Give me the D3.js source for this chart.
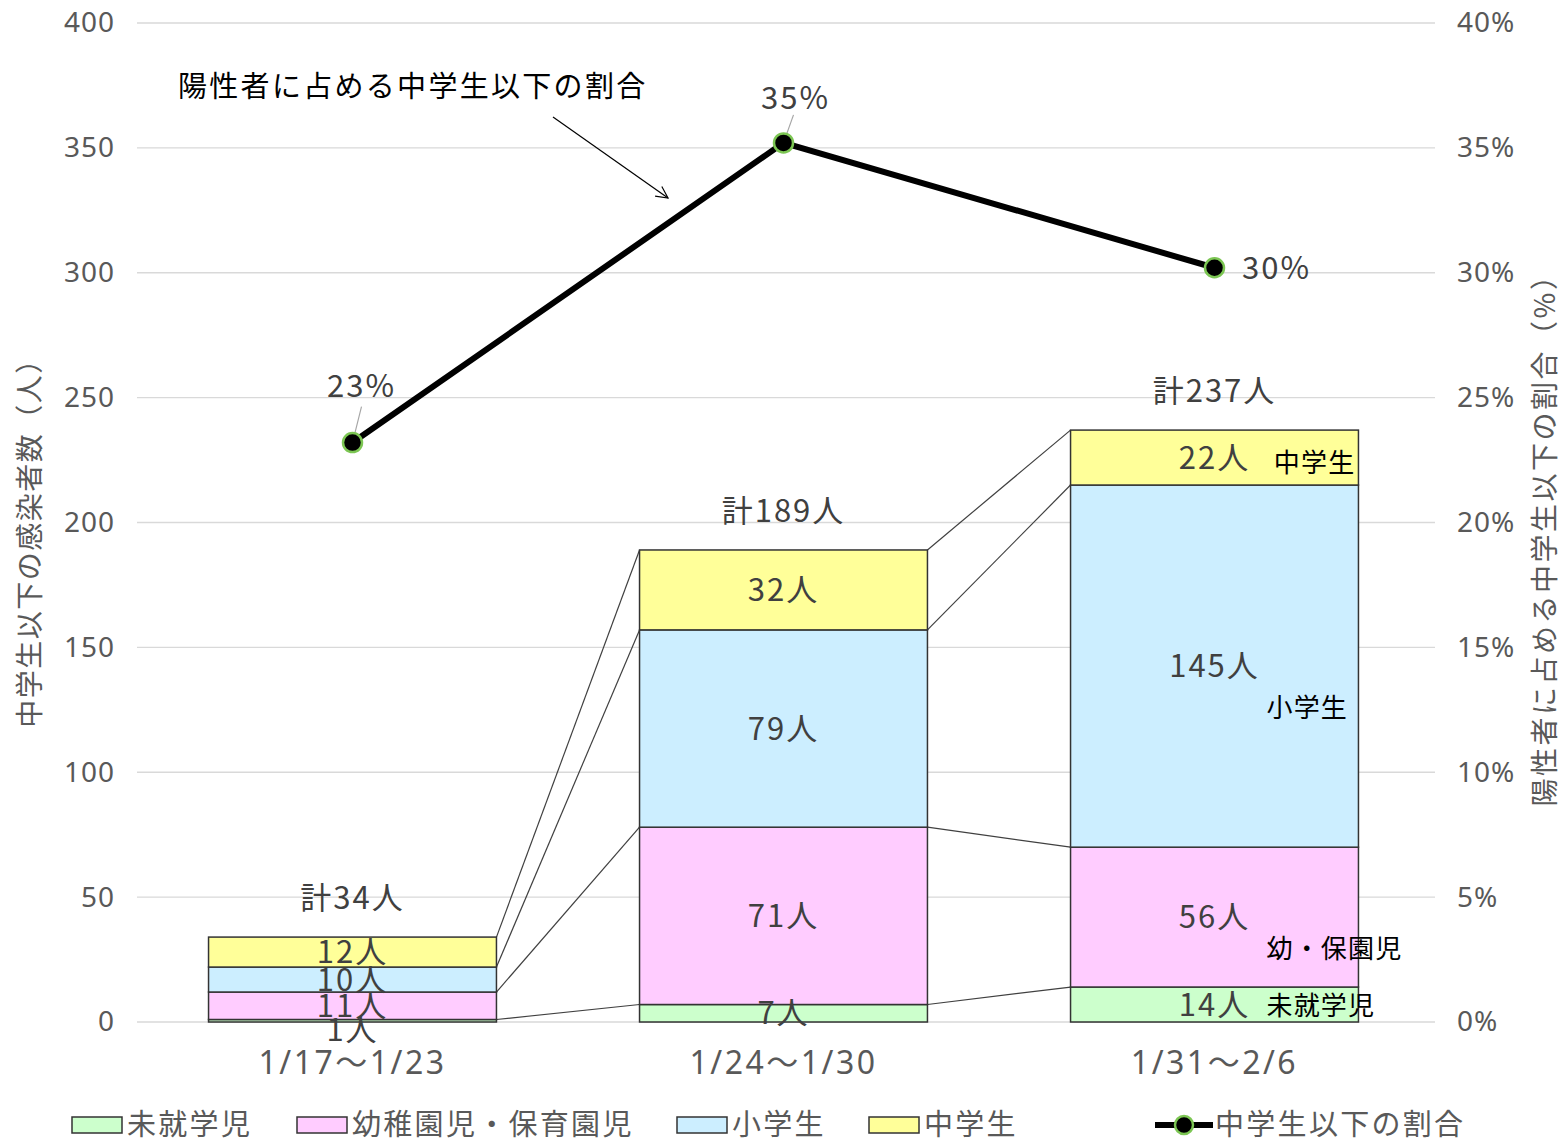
<!DOCTYPE html>
<html>
<head>
<meta charset="utf-8">
<script src="https://cdn.jsdelivr.net/npm/d3@7"></script>
<style>
  body { margin: 0; background: #fff; }
  svg text { font-family: "Noto Sans CJK JP", "Noto Sans", sans-serif; }
</style>
</head>
<body>
<div id="chart"></div>
<script>
// data
const weeks = ["1/17～1/23", "1/24～1/30", "1/31～2/6"];
const seriesNames = ["未就学児", "幼稚園児・保育園児", "小学生", "中学生"];
const preschool = [1, 7, 14];
const kinder = [11, 71, 56];
const elementary = [10, 79, 145];
const juniorHigh = [12, 32, 22];
const ratio = [0.232, 0.352, 0.302];
const ratioLabels = ["23%", "35%", "30%"];
const leftTicks = [0, 50, 100, 150, 200, 250, 300, 350, 400];
const rightTicks = [0, 0.05, 0.1, 0.15, 0.2, 0.25, 0.3, 0.35, 0.4];
// short names written inside the last bar, at these y values
const insideNames = ["未就学児", "幼・保園児", "小学生", "中学生"];
const insideNameAt = [6.5, 29.5, 126, 224];

const colors = ["#ccffcc", "#ffccff", "#cceeff", "#ffff99"];

const W = 1563, H = 1142;
const margin = { top: 23, right: 128, bottom: 120, left: 137 };

const svg = d3.select("#chart").append("svg")
  .attr("width", W).attr("height", H);

const x = d3.scaleBand()
  .domain(weeks)
  .range([margin.left, 1430])
  .paddingInner(0.332)
  .paddingOuter(0.166);

const y = d3.scaleLinear().domain([0, 400]).range([1022, margin.top]);
const y2 = d3.scaleLinear().domain([0, 0.4]).range([1022, margin.top]);

// gridlines
svg.append("g").selectAll("line").data(leftTicks).join("line")
  .attr("x1", margin.left).attr("x2", 1435)
  .attr("y1", d => y(d)).attr("y2", d => y(d))
  .attr("stroke", "#d9d9d9").attr("stroke-width", 1.3);

// left axis
const yAxis = d3.axisLeft(y).tickValues(leftTicks).tickSize(0).tickPadding(22);
const gy = svg.append("g").attr("transform", `translate(${margin.left},0)`).call(yAxis);
gy.select(".domain").remove();
gy.selectAll("text").attr("font-size", 28).attr("fill", "#595959")
  .attr("letter-spacing", 1)
  .style("font-family", "'Noto Sans', sans-serif");

// right axis
const y2Axis = d3.axisRight(y2).tickValues(rightTicks).tickSize(0).tickPadding(22)
  .tickFormat(d3.format(".0%"));
const gy2 = svg.append("g").attr("transform", "translate(1435,0)").call(y2Axis);
gy2.select(".domain").remove();
gy2.selectAll("text").attr("font-size", 28).attr("fill", "#595959")
  .attr("letter-spacing", 1)
  .style("font-family", "'Noto Sans', sans-serif");

// axis titles
svg.append("text")
  .attr("transform", "translate(40,536) rotate(-90)")
  .attr("text-anchor", "middle")
  .attr("font-size", 28).attr("letter-spacing", 1.5).attr("fill", "#595959")
  .text("中学生以下の感染者数（人）");

svg.append("text")
  .attr("transform", "translate(1555,533) rotate(-90)")
  .attr("text-anchor", "middle")
  .attr("font-size", 28).attr("letter-spacing", 2.5).attr("fill", "#595959")
  .text("陽性者に占める中学生以下の割合（%）");

// x axis labels
svg.append("g").selectAll("text").data(weeks).join("text")
  .attr("x", d => x(d) + x.bandwidth() / 2)
  .attr("y", 1074)
  .attr("text-anchor", "middle")
  .attr("font-size", 32).attr("letter-spacing", 2.5).attr("fill", "#595959")
  .style("font-family", "'Noto Sans', 'Noto Sans CJK JP', sans-serif")
  .text(d => d);

// stacked bars
const table = weeks.map((w, i) => ({
  week: w, s0: preschool[i], s1: kinder[i], s2: elementary[i], s3: juniorHigh[i]
}));
const keys = ["s0", "s1", "s2", "s3"];
const stacked = d3.stack().keys(keys)(table);

// series lines between bars
const seriesLines = [];
stacked.forEach(layer => {
  for (let i = 0; i < layer.length - 1; i++) {
    seriesLines.push({ a: layer[i], b: layer[i + 1], i });
  }
});
svg.append("g").selectAll("line").data(seriesLines).join("line")
  .attr("x1", d => x(weeks[d.i]) + x.bandwidth())
  .attr("y1", d => y(d.a[1]))
  .attr("x2", d => x(weeks[d.i + 1]))
  .attr("y2", d => y(d.b[1]))
  .attr("stroke", "#404040").attr("stroke-width", 1.2);

const layers = svg.append("g").selectAll("g").data(stacked).join("g")
  .attr("fill", (d, i) => colors[i]);
layers.selectAll("rect").data(d => d).join("rect")
  .attr("x", d => x(d.data.week))
  .attr("y", d => y(d[1]))
  .attr("width", x.bandwidth())
  .attr("height", d => y(d[0]) - y(d[1]))
  .attr("stroke", "#333").attr("stroke-width", 1.5);

// segment value labels
const valueLabels = svg.append("g");
stacked.forEach(layer => {
  valueLabels.selectAll(null).data(layer).join("text")
    .attr("x", d => x(d.data.week) + x.bandwidth() / 2)
    .attr("y", d => y((d[0] + d[1]) / 2) + (d[1] - d[0] < 3 ? 9 : 0))
    .attr("dy", "0.36em")
    .attr("text-anchor", "middle")
    .attr("font-size", 31).attr("letter-spacing", 2).attr("fill", "#404040")
    .text(d => (d[1] - d[0]) + "人");
});

// totals
svg.append("g").selectAll("text").data(table).join("text")
  .attr("x", d => x(d.week) + x.bandwidth() / 2)
  .attr("y", d => y(d.s0 + d.s1 + d.s2 + d.s3) - 28)
  .attr("text-anchor", "middle")
  .attr("font-size", 31).attr("letter-spacing", 2).attr("fill", "#404040")
  .text(d => "計" + (d.s0 + d.s1 + d.s2 + d.s3) + "人");

// names inside last bar
const lastX = x(weeks[2]) + x.bandwidth();
svg.append("g").selectAll("text").data(insideNames).join("text")
  .attr("x", (d, i) => i === 3 ? lastX - 3 : lastX - 92)
  .attr("y", (d, i) => y(insideNameAt[i]))
  .attr("dy", "0.36em")
  .attr("text-anchor", (d, i) => i === 3 ? "end" : "start")
  .attr("font-size", 26).attr("letter-spacing", 1.2).attr("fill", "#000")
  .text(d => d);

// ratio line
const cx = i => x(weeks[i]) + x.bandwidth() / 2;
const line = d3.line().x((d, i) => cx(i)).y(d => y2(d));
svg.append("path").datum(ratio)
  .attr("d", line)
  .attr("fill", "none").attr("stroke", "#000").attr("stroke-width", 6);

// leader lines for ratio labels
const leaders = [[9, -36], [10, -28], null];
svg.append("g").selectAll("line").data(ratio).join("line")
  .filter((d, i) => leaders[i])
  .attr("x1", (d, i) => cx(i)).attr("y1", d => y2(d))
  .attr("x2", (d, i) => cx(i) + leaders[i][0])
  .attr("y2", (d, i) => y2(d) + leaders[i][1])
  .attr("stroke", "#a6a6a6").attr("stroke-width", 1.2);

svg.append("g").selectAll("circle").data(ratio).join("circle")
  .attr("cx", (d, i) => cx(i)).attr("cy", d => y2(d))
  .attr("r", 9.5)
  .attr("fill", "#000").attr("stroke", "#7cc653").attr("stroke-width", 2.5);

const ratioLabelPos = [[9, -46], [12, -34], [62, 11]];
svg.append("g").selectAll("text").data(ratio).join("text")
  .attr("x", (d, i) => cx(i) + ratioLabelPos[i][0])
  .attr("y", (d, i) => y2(d) + ratioLabelPos[i][1])
  .attr("text-anchor", "middle")
  .attr("font-size", 31).attr("letter-spacing", 2).attr("fill", "#404040")
  .text((d, i) => ratioLabels[i]);

// annotation
svg.append("text")
  .attr("x", 178).attr("y", 97)
  .attr("font-size", 29).attr("letter-spacing", 2.3).attr("fill", "#000")
  .text("陽性者に占める中学生以下の割合");

svg.append("defs").append("marker")
  .attr("id", "arrow").attr("viewBox", "0 0 12 12")
  .attr("refX", 11).attr("refY", 6)
  .attr("markerWidth", 14).attr("markerHeight", 14)
  .attr("markerUnits", "userSpaceOnUse")
  .attr("orient", "auto")
  .append("path").attr("d", "M1,1 L11,6 L1,11")
  .attr("fill", "none").attr("stroke", "#000").attr("stroke-width", 1);
svg.append("line")
  .attr("x1", 553).attr("y1", 117).attr("x2", 668).attr("y2", 198)
  .attr("stroke", "#000").attr("stroke-width", 1.2)
  .attr("marker-end", "url(#arrow)");

// legend
const legend = svg.append("g").attr("transform", "translate(0,1125)");
const legendX = [72, 297, 677, 869];
seriesNames.forEach((name, i) => {
  legend.append("rect")
    .attr("x", legendX[i]).attr("y", -8).attr("width", 50).attr("height", 16)
    .attr("fill", colors[i]).attr("stroke", "#333").attr("stroke-width", 1.5);
  legend.append("text")
    .attr("x", legendX[i] + 55).attr("y", 0).attr("dy", "0.35em")
    .attr("font-size", 29).attr("letter-spacing", 2.3).attr("fill", "#595959")
    .text(name);
});
legend.append("line")
  .attr("x1", 1155).attr("x2", 1213).attr("y1", 0).attr("y2", 0)
  .attr("stroke", "#000").attr("stroke-width", 6);
legend.append("circle")
  .attr("cx", 1184).attr("cy", 0).attr("r", 9)
  .attr("fill", "#000").attr("stroke", "#7cc653").attr("stroke-width", 2.5);
legend.append("text")
  .attr("x", 1215).attr("y", 0).attr("dy", "0.35em")
  .attr("font-size", 29).attr("letter-spacing", 2.3).attr("fill", "#595959")
  .text("中学生以下の割合");
</script>
</body>
</html>
